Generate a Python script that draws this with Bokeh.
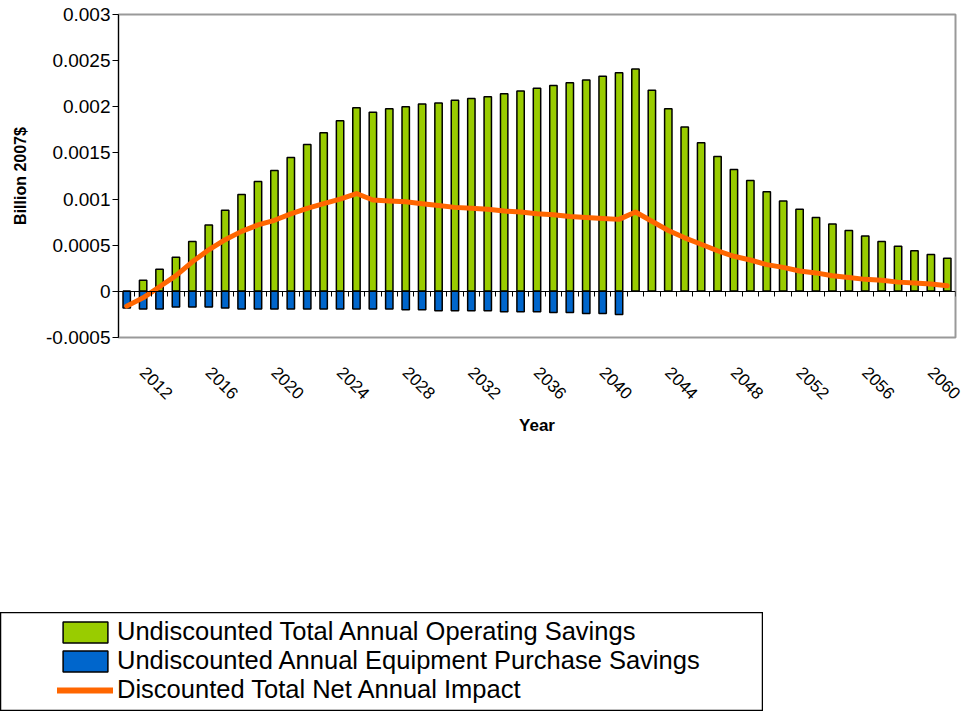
import math
from bokeh.plotting import figure
from bokeh.models import Range1d, LinearAxis, FixedTicker, Legend, LegendItem, ColumnDataSource
from bokeh.embed import file_html
from bokeh.resources import INLINE

# ---------------- data ----------------
years = list(range(2011, 2062))

operating_savings = [
    0.0, 0.00012, 0.00024, 0.00037, 0.00054, 0.00072, 0.00088, 0.00105, 0.00119, 0.00131,
    0.00145, 0.00159, 0.00172, 0.00185, 0.00199, 0.00194, 0.00198, 0.00200, 0.00203, 0.00204,
    0.00207, 0.00209, 0.00211, 0.00214, 0.00217, 0.00220, 0.00223, 0.00226, 0.00229, 0.00233,
    0.00237, 0.00241, 0.00218, 0.00198, 0.00178, 0.00161, 0.00146, 0.00132, 0.00120, 0.00108,
    0.00098, 0.00089, 0.00080, 0.00073, 0.00066, 0.00060, 0.00054, 0.00049, 0.00044, 0.00040,
    0.00036,
]

equipment_savings = [
    -0.00018, -0.00019, -0.00019, -0.00017, -0.00017, -0.00017, -0.00018, -0.00019, -0.00019, -0.00019,
    -0.00019, -0.00019, -0.00019, -0.00019, -0.00019, -0.00019, -0.00019, -0.00020, -0.00020, -0.00021,
    -0.00021, -0.00021, -0.00021, -0.00022, -0.00022, -0.00022, -0.00023, -0.00023, -0.00024, -0.00024,
    -0.00025, 0.0, 0.0, 0.0, 0.0, 0.0, 0.0, 0.0, 0.0, 0.0,
    0.0, 0.0, 0.0, 0.0, 0.0, 0.0, 0.0, 0.0, 0.0, 0.0,
    0.0,
]

net_impact = [
    -0.00016, -0.00007, 0.00005, 0.00017, 0.00032, 0.00045, 0.00056, 0.00065, 0.00072, 0.00077,
    0.00084, 0.00090, 0.00095, 0.00100, 0.00106, 0.00099, 0.00098, 0.00097, 0.00095, 0.00093,
    0.00091, 0.00090, 0.00089, 0.00087, 0.00086, 0.00084, 0.00083, 0.00081, 0.00080, 0.00079,
    0.00078, 0.00086, 0.00076, 0.00066, 0.00058, 0.00051, 0.00044, 0.00038, 0.00034, 0.00029,
    0.00026, 0.00022, 0.00020, 0.00017, 0.00015, 0.00013, 0.00012, 0.00010, 0.00009, 0.00008,
    0.00006,
]

x_tick_years = [2012, 2016, 2020, 2024, 2028, 2032, 2036, 2040, 2044, 2048, 2052, 2056, 2060]
y_ticks = [-0.0005, 0, 0.0005, 0.001, 0.0015, 0.002, 0.0025, 0.003]
y_tick_labels = ["-0.0005", "0", "0.0005", "0.001", "0.0015", "0.002", "0.0025", "0.003"]

series_labels = [
    "Undiscounted Total Annual Operating Savings",
    "Undiscounted Annual Equipment Purchase Savings",
    "Discounted Total Net Annual Impact",
]

GREEN = "#99CC00"
BLUE = "#0066CC"
ORANGE = "#FF6600"
FONT = "Liberation Sans"

src = ColumnDataSource(dict(year=years, op=operating_savings, eq=equipment_savings, net=net_impact))

# ---------------- main chart ----------------
p = figure(width=964, height=612,
           x_range=Range1d(years[0] - 0.5, years[-1] + 0.5),
           y_range=Range1d(y_ticks[0], y_ticks[-1]),
           output_backend="svg", toolbar_location=None,
           min_border_left=118, min_border_right=9, min_border_top=14, min_border_bottom=275)
p.grid.visible = False
p.outline_line_color = "#999999"
p.outline_line_width = 2
p.background_fill_color = "white"
p.border_fill_color = "white"

p.vbar(x="year", top="op", bottom=0, width=0.45, source=src,
       fill_color=GREEN, line_color="black", line_width=1.5)
p.vbar(x="year", top=0, bottom="eq", width=0.45, source=src,
       fill_color=BLUE, line_color="black", line_width=1.5)
p.line(x="year", y="net", source=src, line_color=ORANGE, line_width=5,
       line_join="round", line_cap="round")

xa = p.xaxis[0]
xa.ticker = FixedTicker(ticks=x_tick_years, minor_ticks=[])
xa.axis_line_color = None
xa.major_tick_line_color = None
xa.minor_tick_line_color = None
xa.major_label_orientation = -math.pi / 4
xa.major_label_standoff = 26
xa.major_label_text_font = FONT
xa.major_label_text_font_size = "17px"
xa.major_label_text_color = "black"
xa.axis_label = "Year"
xa.axis_label_text_font = FONT
xa.axis_label_text_font_size = "17px"
xa.axis_label_text_font_style = "bold"
xa.axis_label_text_color = "black"
xa.axis_label_standoff = 8

ya = p.yaxis[0]
ya.ticker = FixedTicker(ticks=y_ticks, minor_ticks=[])
ya.major_label_overrides = {t: l for t, l in zip(y_ticks, y_tick_labels)}
ya.axis_line_color = "black"
ya.axis_line_width = 1
ya.major_tick_in = 0
ya.major_tick_out = 6
ya.major_tick_line_color = "black"
ya.minor_tick_line_color = None
ya.major_label_standoff = 2
ya.major_label_text_font = FONT
ya.major_label_text_font_size = "19px"
ya.major_label_text_color = "black"
ya.axis_label = "Billion 2007$"
ya.axis_label_text_font = FONT
ya.axis_label_text_font_size = "16px"
ya.axis_label_text_font_style = "bold"
ya.axis_label_text_color = "black"
ya.axis_label_standoff = 14

# category axis drawn across zero with ticks between years
boundaries = [y - 0.5 for y in years] + [years[-1] + 0.5]
zax = LinearAxis(fixed_location=0, ticker=FixedTicker(ticks=boundaries, minor_ticks=[]),
                 axis_line_color="black", axis_line_width=1,
                 major_tick_in=0, major_tick_out=5, major_tick_line_color="black",
                 minor_tick_line_color=None, major_label_text_color=None)
p.add_layout(zax, "below")

# ---------------- legend box (separate root below the chart) ----------------
# the same series are attached here (outside this box's visible range) so the
# legend can draw their swatches
lf = figure(width=763, height=99, x_range=Range1d(0, 1), y_range=Range1d(0, 1),
            output_backend="svg", toolbar_location=None, min_border=0,
            x_axis_type=None, y_axis_type=None)
lf.outline_line_color = "black"
lf.outline_line_width = 1.5
lf.border_fill_color = "white"
r1 = lf.vbar(x="year", top="op", bottom=0, width=0.45, source=src,
             fill_color=GREEN, line_color="black", line_width=1.5)
r2 = lf.vbar(x="year", top=0, bottom="eq", width=0.45, source=src,
             fill_color=BLUE, line_color="black", line_width=1.5)
r3 = lf.line(x="year", y="net", source=src, line_color=ORANGE, line_width=6, line_cap="round")
legend = Legend(items=[LegendItem(label=series_labels[0], renderers=[r1]),
                       LegendItem(label=series_labels[1], renderers=[r2]),
                       LegendItem(label=series_labels[2], renderers=[r3])],
                location=(57, 7), padding=0, margin=0, spacing=0,
                label_height=28, glyph_height=26, glyph_width=56, label_standoff=4,
                label_text_font=FONT, label_text_font_size="25.5px", label_text_color="black",
                border_line_color=None, background_fill_alpha=0)
lf.add_layout(legend, "center")

open("out.html", "w").write(file_html([p, lf], INLINE))
